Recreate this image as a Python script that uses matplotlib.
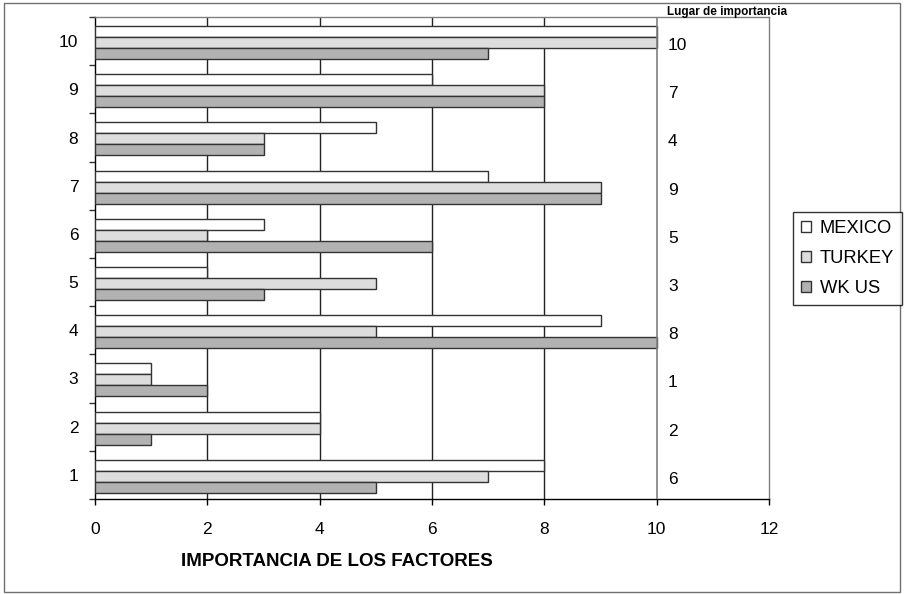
import matplotlib
matplotlib.use("Agg")
import matplotlib.pyplot as plt
import numpy as np
from matplotlib.patches import Rectangle

plt.rcParams['font.family'] = ['Liberation Sans', 'DejaVu Sans']

categories = ["1", "2", "3", "4", "5", "6", "7", "8", "9", "10"]
mexico = [8, 4, 1, 9, 2, 3, 7, 5, 6, 10]
turkey = [7, 4, 1, 5, 5, 2, 9, 3, 8, 10]
wkus = [5, 1, 2, 10, 3, 6, 9, 3, 8, 7]
lugar = ["6", "2", "1", "8", "3", "5", "9", "4", "7", "10"]
series_names = ["MEXICO", "TURKEY", "WK US"]
series_colors = ["#FFFFFF", "#DDDDDD", "#B2B2B2"]
xticks = [0, 2, 4, 6, 8, 10, 12]

W, H = 905, 594
fig = plt.figure(figsize=(W / 100, H / 100), dpi=100)
fig.patch.set_facecolor("white")
ax = fig.add_axes([95 / W, (H - 499) / H, (769 - 95) / W, (499 - 17) / H])

pos = np.arange(1, len(categories) + 1)
h = 0.228
off = -0.03
handles = []
for i, (vals, name, col) in enumerate(zip([mexico, turkey, wkus], series_names, series_colors)):
    b = ax.barh(pos + off + (1 - i) * h, vals, height=h, color=col,
                edgecolor="#333333", linewidth=1.0, label=name, zorder=3)
    handles.append(b)

ax.set_xlim(0, 12)
ax.set_ylim(0.5, len(categories) + 0.5)
ax.set_xticks(xticks)
ax.set_xticklabels([str(x) for x in xticks], fontsize=12.5)
ax.set_yticks(pos)
ax.set_yticklabels(categories, fontsize=12.5)
ax.set_yticks(np.arange(0.5, len(categories) + 1, 1), minor=True)
ax.tick_params(axis="y", which="major", length=0, pad=12)
ax.tick_params(axis="y", which="minor", length=4.5, width=1, color="#333333", direction="out")
ax.tick_params(axis="x", which="major", length=4.5, width=1, color="#000000", direction="out", pad=12)

for x in [2, 4, 6, 8]:
    ax.axvline(x, color="#222222", linewidth=1.0, zorder=1)
ax.axvline(10, color="#808080", linewidth=1.2, zorder=4)

ax.spines["left"].set_color("#000000")
ax.spines["bottom"].set_color("#000000")
ax.spines["top"].set_color("#808080")
ax.spines["right"].set_color("#808080")
for s in ax.spines.values():
    s.set_linewidth(1.0)

for p, t in zip(pos, lugar):
    ax.text(10.2, p - 0.09, t, fontsize=12.5, ha="left", va="center")

fig.text(667 / W, 1 - 12 / H, "Lugar de importancia", fontsize=8.5, fontweight="bold",
         ha="left", va="center")
fig.text(337 / W, 1 - 561 / H, "IMPORTANCIA DE LOS FACTORES", fontsize=13.5,
         fontweight="bold", ha="center", va="center")

leg = fig.legend(handles=handles, labels=series_names, loc="upper left",
                 bbox_to_anchor=(793 / W, 1 - 212 / H), fontsize=13.2, frameon=True,
                 fancybox=False, edgecolor="#000000", handlelength=0.55,
                 handleheight=0.55, handletextpad=0.45, borderpad=0.45,
                 labelspacing=0.7, borderaxespad=0)
leg.get_frame().set_linewidth(1.0)

fig.patches.append(Rectangle((4 / W, 1 - 592 / H), (900 - 4) / W, (592 - 3) / H,
                             transform=fig.transFigure, fill=False,
                             edgecolor="#707070", linewidth=1.0))

fig.savefig("out.png", dpi=100)
